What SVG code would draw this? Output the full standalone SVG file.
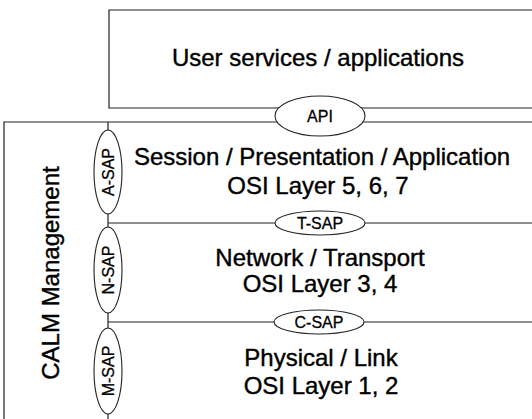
<svg xmlns="http://www.w3.org/2000/svg" width="532" height="419" viewBox="0 0 532 419">
<style>
.ln{fill:none;stroke:#222;stroke-width:1.2}
.sap{fill:#fff;stroke:#222;stroke-width:1.1}
.big{font-family:"Liberation Sans",Arial,sans-serif;font-size:24px;fill:#000;stroke:#000;stroke-width:0.4;text-anchor:middle}
.sm{font-family:"Liberation Sans",Arial,sans-serif;font-size:16px;fill:#000;stroke:#000;stroke-width:0.3;text-anchor:middle}
</style>
<rect width="532" height="419" fill="#fff"/>
<g id="connectors">
<path class="ln" d="M532,10 H109 V108 H532"/>
<path class="ln" d="M4,419 V122 H532"/>
<path class="ln" d="M108,122 V419"/>
<path class="ln" d="M108,223 H532"/>
<path class="ln" d="M108,322 H532"/>
</g>
<g id="user-services">
<text class="big" x="318" y="66">User services / applications</text>
</g>
<g id="api">
<ellipse class="sap" cx="320" cy="116" rx="45" ry="20"/>
<text class="sm" x="320" y="122">API</text>
</g>
<g id="session-layer">
<text class="big" x="322" y="165">Session / Presentation / Application</text>
<text class="big" x="318" y="194">OSI Layer 5, 6, 7</text>
</g>
<g id="a-sap">
<ellipse class="sap" cx="108" cy="172" rx="14" ry="42"/>
<text class="sm" transform="translate(114,172) rotate(-90)">A-SAP</text>
</g>
<g id="t-sap">
<ellipse class="sap" cx="320" cy="223" rx="45" ry="12"/>
<text class="sm" x="320" y="229">T-SAP</text>
</g>
<g id="network-layer">
<text class="big" x="320" y="266">Network / Transport</text>
<text class="big" x="320" y="292">OSI Layer 3, 4</text>
</g>
<g id="n-sap">
<ellipse class="sap" cx="108" cy="270" rx="14" ry="43"/>
<text class="sm" transform="translate(114,270) rotate(-90)">N-SAP</text>
</g>
<g id="c-sap">
<ellipse class="sap" cx="319" cy="322" rx="45" ry="12"/>
<text class="sm" x="319" y="328">C-SAP</text>
</g>
<g id="physical-layer">
<text class="big" x="321" y="366">Physical / Link</text>
<text class="big" x="321" y="394">OSI Layer 1, 2</text>
</g>
<g id="m-sap">
<ellipse class="sap" cx="108" cy="371" rx="14" ry="43"/>
<text class="sm" transform="translate(114,371) rotate(-90)">M-SAP</text>
</g>
<g id="calm-management">
<text class="big" transform="translate(59,273) rotate(-90)">CALM Management</text>
</g>
</svg>
